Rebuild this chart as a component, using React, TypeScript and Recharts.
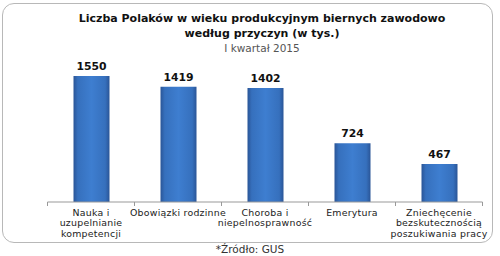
import React from "react";
import { BarChart, Bar, XAxis, YAxis, LabelList } from "recharts";

const categories = [
  "Nauka i\nuzupelnianie\nkompetencji",
  "Obowiązki rodzinne",
  "Choroba i\nniepelnosprawność",
  "Emerytura",
  "Zniechęcenie\nbezskutecznością\nposzukiwania pracy",
];
const values = [1550, 1419, 1402, 724, 467];
const titleLines = ["Liczba Polaków w wieku produkcyjnym biernych zawodowo", "według przyczyn (w tys.)"];
const subtitle = "I kwartał 2015";
const source = "*Źródło: GUS";

const data = categories.map((c, i) => ({ name: c, value: values[i] }));

const BAND = 87;

const CatTick = (props: any) => {
  const { x, y, payload, index } = props;
  const lines = String(payload.value).split("\n");
  return (
    <g>
      <line x1={x - BAND / 2} x2={x - BAND / 2} y1={y - 8} y2={y - 4} stroke="#999" />
      {index === categories.length - 1 && (
        <line x1={x + BAND / 2} x2={x + BAND / 2} y1={y - 8} y2={y - 4} stroke="#999" />
      )}
      <text
        x={x}
        y={y}
        textAnchor="middle"
        fontFamily="DejaVu Sans"
        fontSize={9.4}
        letterSpacing={0.25}
        fill="#222"
      >
        {lines.map((l, i) => (
          <tspan key={i} x={x} dy={i === 0 ? 5.5 : 10.5}>
            {l}
          </tspan>
        ))}
      </text>
    </g>
  );
};

export default function App() {
  return (
    <div style={{ position: "absolute", left: 0, top: 0, width: 500, height: 256, background: "#fff" }}>
      <div
        style={{
          position: "absolute",
          left: 2,
          top: 3,
          width: 489,
          height: 238,
          border: "1.5px solid #b8b8b8",
          borderRadius: 12,
        }}
      />
      <div
        style={{
          position: "absolute",
          left: 0,
          top: 11,
          width: 524,
          textAlign: "center",
          fontFamily: "DejaVu Sans",
          fontWeight: "bold",
          fontSize: 11,
          lineHeight: "15px",
          color: "#111",
        }}
      >
        {titleLines.map((t, i) => (
          <div key={i}>{t}</div>
        ))}
      </div>
      <div
        style={{
          position: "absolute",
          left: 0,
          top: 41,
          width: 524,
          textAlign: "center",
          fontFamily: "DejaVu Sans",
          fontSize: 10.5,
          lineHeight: "15px",
          color: "#555",
        }}
      >
        {subtitle}
      </div>
      <div
        style={{
          position: "absolute",
          left: 0,
          top: 243,
          width: 500,
          textAlign: "center",
          fontFamily: "DejaVu Sans",
          fontSize: 10.5,
          lineHeight: "13px",
          color: "#333",
        }}
      >
        {source}
      </div>
      <div style={{ position: "absolute", left: 0, top: 0 }}>
        <BarChart
          width={500}
          height={256}
          data={data}
          margin={{ top: 76, right: 17.5, left: 47.5, bottom: 0 }}
          barCategoryGap={0}
        >
          <defs>
            <linearGradient id="barGrad" x1="0" y1="0" x2="1" y2="0">
              <stop offset="0" stopColor="#2a5597" />
              <stop offset="0.12" stopColor="#3670bd" />
              <stop offset="0.5" stopColor="#3e7ed0" />
              <stop offset="0.88" stopColor="#3670bd" />
              <stop offset="1" stopColor="#2a5597" />
            </linearGradient>
          </defs>
          <XAxis
            dataKey="name"
            axisLine={{ stroke: "#999" }}
            tickLine={false}
            height={54}
            interval={0}
            tick={<CatTick />}
          />
          <YAxis hide domain={[0, 1550]} />
          <Bar dataKey="value" fill="url(#barGrad)" barSize={36} isAnimationActive={false}>
            <LabelList
              dataKey="value"
              position="top"
              offset={6}
              fontFamily="DejaVu Sans"
              fontWeight="bold"
              fontSize={10.8}
              fill="#111"
            />
          </Bar>
        </BarChart>
      </div>
    </div>
  );
}
